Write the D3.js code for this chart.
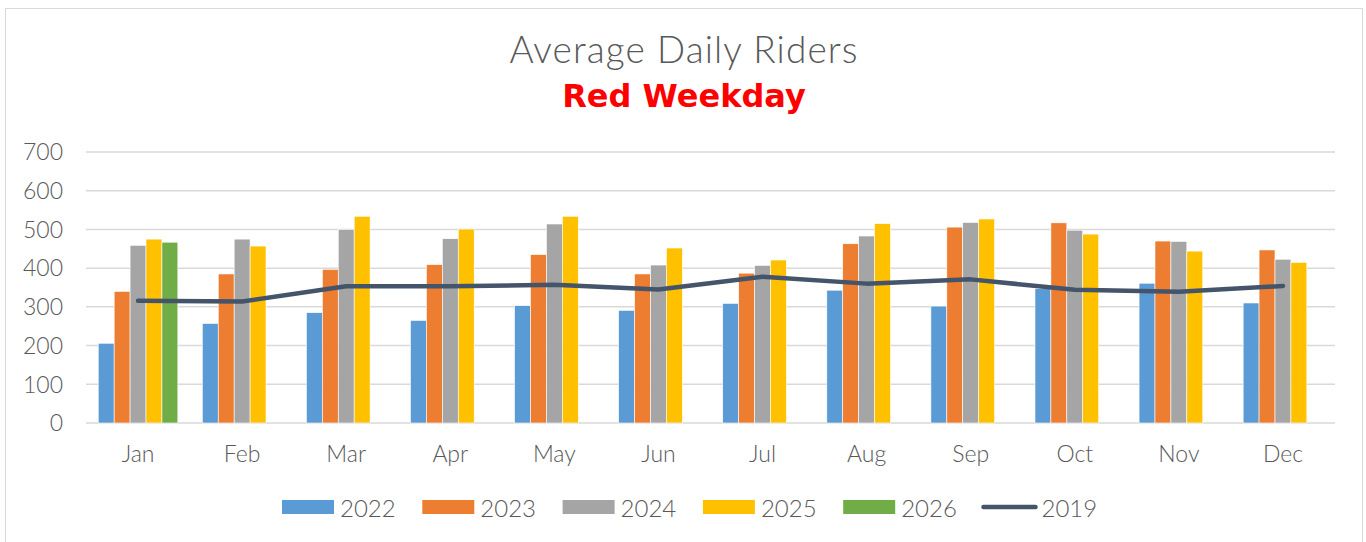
<!DOCTYPE html>
<html>
<head>
<meta charset="utf-8">
<script src="https://cdn.jsdelivr.net/npm/d3@7"></script>
<style>
body{margin:0;background:#fff;}
svg{display:block;font-family:Lato,"Open Sans",sans-serif;}
</style>
</head>
<body>
<svg></svg>
<script>
var width=1366;
var height=542;

var months=["Jan","Feb","Mar","Apr","May","Jun","Jul","Aug","Sep","Oct","Nov","Dec"];
var years=["2022","2023","2024","2025","2026"];
var yTicks=[0,100,200,300,400,500,600,700];

var r2022=[206,257,285,265,303,291,309,343,302,347,361,310];
var r2023=[340,385,397,409,435,385,387,463,506,517,470,447];
var r2024=[459,475,500,476,514,408,407,483,518,498,469,423];
var r2025=[475,457,534,501,534,452,421,515,527,488,444,415];
var r2026=[467,null,null,null,null,null,null,null,null,null,null,null];
var r2019=[316,314,353,353,357,345,378,360,371,344,339,354];

var series=[r2022,r2023,r2024,r2025,r2026];
var colors=["#5b9bd5","#ed7d31","#a5a5a5","#ffc000","#70ad47"];
var lineColor="#44546a";

var plotLeft=86,plotRight=1335,plotTop=152,plotBottom=423;

var svg=d3.select("svg")
	.attr("width",width)
	.attr("height",height);

// chart frame
svg.append("rect")
	.attr("x",5.5).attr("y",8.5)
	.attr("width",1357).attr("height",540)
	.attr("fill","#fff")
	.attr("stroke","#d9d9d9");

var scalex=d3.scaleBand()
	.domain(months)
	.range([plotLeft,plotRight])
	.paddingInner(0.235)
	.paddingOuter(0.1175);

var scaley=d3.scaleLinear()
	.domain([0,700])
	.range([plotBottom,plotTop]);

var inner=d3.scaleBand()
	.domain(years)
	.range([0,scalex.bandwidth()]);

// gridlines
svg.append("g")
	.selectAll("line")
	.data(yTicks)
	.enter()
	.append("line")
	.attr("x1",plotLeft).attr("x2",plotRight)
	.attr("y1",d=>scaley(d)).attr("y2",d=>scaley(d))
	.attr("stroke","#d9d9d9")
	.attr("stroke-width",1.5);

// y labels
svg.append("g")
	.selectAll("text")
	.data(yTicks)
	.enter()
	.append("text")
	.attr("x",63)
	.attr("y",d=>scaley(d))
	.attr("dy","0.36em")
	.attr("text-anchor","end")
	.attr("fill","#595959")
	.style("font-size","23px")
	.style("font-weight",300)
	.text(d=>d);

// bars
series.forEach(function(arr,k){
	svg.append("g")
		.selectAll("rect")
		.data(arr.map((v,i)=>({m:months[i],v:v})).filter(d=>d.v!=null))
		.enter()
		.append("rect")
		.attr("x",d=>scalex(d.m)+inner(years[k]))
		.attr("y",d=>scaley(d.v))
		.attr("width",inner.bandwidth())
		.attr("height",d=>scaley(0)-scaley(d.v))
		.attr("fill",colors[k])
		.attr("stroke","#fff")
		.attr("stroke-width",0.6);
});

// 2019 line
var line=d3.line()
	.x((d,i)=>scalex(months[i])+scalex.bandwidth()/2)
	.y(d=>scaley(d));

svg.append("path")
	.datum(r2019)
	.attr("d",line)
	.attr("fill","none")
	.attr("stroke",lineColor)
	.attr("stroke-width",4.5)
	.attr("stroke-linecap","round")
	.attr("stroke-linejoin","round");

// x labels
svg.append("g")
	.selectAll("text")
	.data(months)
	.enter()
	.append("text")
	.attr("x",d=>scalex(d)+scalex.bandwidth()/2)
	.attr("y",462)
	.attr("text-anchor","middle")
	.attr("fill","#595959")
	.style("font-size","23px")
	.style("font-weight",300)
	.text(d=>d);

// titles
svg.append("text")
	.attr("x",684).attr("y",63)
	.attr("text-anchor","middle")
	.attr("fill","#595959")
	.style("font-size","37px")
	.style("font-weight",300)
	.style("letter-spacing","1.1px")
	.text("Average Daily Riders");

svg.append("text")
	.attr("x",684).attr("y",107)
	.attr("text-anchor","middle")
	.attr("fill","#ff0000")
	.style("font-family","'DejaVu Sans',sans-serif")
	.style("font-size","32px")
	.style("font-weight",700)
	.text("Red Weekday");

// legend
var legendItems=years.map((y,k)=>({label:y,color:colors[k],kind:"bar"}))
	.concat([{label:"2019",color:lineColor,kind:"line"}]);

var legend=svg.append("g")
	.selectAll("g")
	.data(legendItems)
	.enter()
	.append("g")
	.attr("transform",(d,i)=>"translate("+(282+i*140.3)+",0)");

legend.filter(d=>d.kind=="bar")
	.append("rect")
	.attr("x",0).attr("y",500)
	.attr("width",52).attr("height",14)
	.attr("fill",d=>d.color);

legend.filter(d=>d.kind=="line")
	.append("line")
	.attr("x1",0).attr("x2",52)
	.attr("y1",507).attr("y2",507)
	.attr("stroke",d=>d.color)
	.attr("stroke-width",4.5)
	.attr("stroke-linecap","round");

legend.append("text")
	.attr("x",58)
	.attr("y",517)
	.attr("fill","#595959")
	.style("font-size","24px")
	.style("font-weight",300)
	.text(d=>d.label);
</script>
</body>
</html>
